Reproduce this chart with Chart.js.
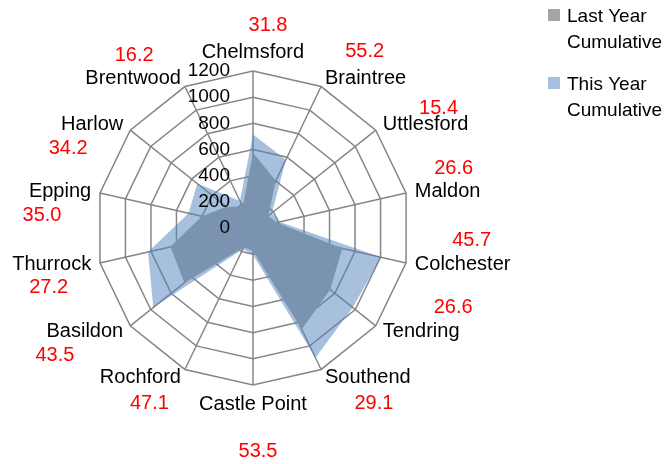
<!DOCTYPE html>
<html><head><meta charset="utf-8">
<script src="https://cdn.jsdelivr.net/npm/chart.js@4.4.1/dist/chart.umd.min.js"></script>
<style>html,body{margin:0;padding:0;background:#fff;overflow:hidden}</style>
</head><body>
<canvas id="c" width="670" height="464"></canvas>
<script>
// ---- data ----
const categories = ['Chelmsford','Braintree','Uttlesford','Maldon','Colchester','Tendring','Southend','Castle Point','Rochford','Basildon','Thurrock','Epping','Harlow','Brentwood'];
const lastYear = [575, 400, 150, 185, 700, 755, 860, 175, 165, 670, 648, 400, 260, 180];
const thisYear = [715, 580, 185, 210, 1005, 975, 1100, 205, 180, 975, 823, 505, 545, 230];
const notes = ['31.8','55.2','15.4','26.6','45.7','26.6','29.1','53.5','47.1','43.5','27.2','35.0','34.2','16.2'];
const tickLabels = [0, 200, 400, 600, 800, 1000, 1200];
const seriesLastYear = ['Last Year', 'Cumulative'];
const seriesThisYear = ['This Year', 'Cumulative'];

// ---- layout (not data) ----
const noteShift = [[15,-25],[-1,-27],[13,-16],[6,-23],[9,-24],[32,-24],[6,26],[5,45],[9,26],[-30,24],[-3,23],[-18,24],[-24,24],[1,-23]];
const FONT = '"Liberation Sans", Arial, sans-serif';
const LY_COLOR = '#A5A5A5';
const TY_COLOR = 'rgba(79,129,189,0.5)';

const overlay = {
  id: 'overlay',
  afterDraw(chart) {
    const s = chart.scales.r;
    const ctx = chart.ctx;
    ctx.save();
    // tick labels
    ctx.font = '19px ' + FONT;
    ctx.fillStyle = '#000';
    ctx.textAlign = 'right';
    ctx.textBaseline = 'middle';
    tickLabels.forEach(v => {
      ctx.fillText(String(v), s.xCenter - 23, s.yCenter - s.getDistanceFromCenterForValue(v));
    });
    // category labels + notes
    ctx.font = '20px ' + FONT;
    categories.forEach((name, i) => {
      const p = s.getPointPosition(i, s.drawingArea + 9);
      const deg = Math.round(s.getIndexAngle(i) * 180 / Math.PI) % 360;
      const align = (deg === 0 || deg === 180) ? 'center' : (deg < 180 ? 'left' : 'right');
      const base = deg === 0 ? 'bottom' : (deg === 180 ? 'top' : 'middle');
      ctx.textAlign = align; ctx.textBaseline = base; ctx.fillStyle = '#000';
      ctx.fillText(name, p.x, p.y);
      const w = ctx.measureText(name).width;
      const cx = align === 'center' ? p.x : (align === 'left' ? p.x + w / 2 : p.x - w / 2);
      const cy = base === 'bottom' ? p.y - 12 : (base === 'top' ? p.y + 12 : p.y);
      ctx.fillStyle = '#FF0000'; ctx.textAlign = 'center'; ctx.textBaseline = 'middle';
      ctx.fillText(notes[i], cx + noteShift[i][0], cy + noteShift[i][1]);
    });
    // legend
    ctx.font = '19px ' + FONT;
    ctx.textAlign = 'left';
    ctx.textBaseline = 'alphabetic';
    const ds = chart.data.datasets;
    const entries = [[ds[0].backgroundColor, seriesLastYear, 9], [ds[1].backgroundColor, seriesThisYear, 77]];
    entries.forEach(([col, lines, top]) => {
      ctx.fillStyle = col;
      ctx.fillRect(548, top, 12, 12);
      ctx.fillStyle = '#000';
      ctx.fillText(lines[0], 567, top + 13);
      ctx.fillText(lines[1], 567, top + 39);
    });
    ctx.restore();
  }
};

new Chart(document.getElementById('c'), {
  type: 'radar',
  data: {
    labels: categories,
    datasets: [
      { label: seriesLastYear.join(' '), data: lastYear, backgroundColor: LY_COLOR, borderColor: 'transparent', borderWidth: 0, pointRadius: 0, fill: true, order: 1 },
      { label: seriesThisYear.join(' '), data: thisYear, backgroundColor: TY_COLOR, borderColor: 'transparent', borderWidth: 0, pointRadius: 0, fill: true, order: 0 }
    ]
  },
  options: {
    responsive: false,
    animation: false,
    devicePixelRatio: 1,
    layout: { padding: { left: 96, top: 71, right: 260, bottom: 79 } },
    plugins: { legend: { display: false }, tooltip: { enabled: false } },
    elements: { line: { tension: 0 } },
    scales: {
      r: {
        min: 0, max: 1200,
        ticks: { stepSize: 200, display: false, z: 1 },
        grid: { color: '#868686', lineWidth: 1.5, circular: false },
        angleLines: { color: '#868686', lineWidth: 1.5 },
        pointLabels: { display: false }
      }
    }
  },
  plugins: [overlay]
});
</script>
</body></html>
